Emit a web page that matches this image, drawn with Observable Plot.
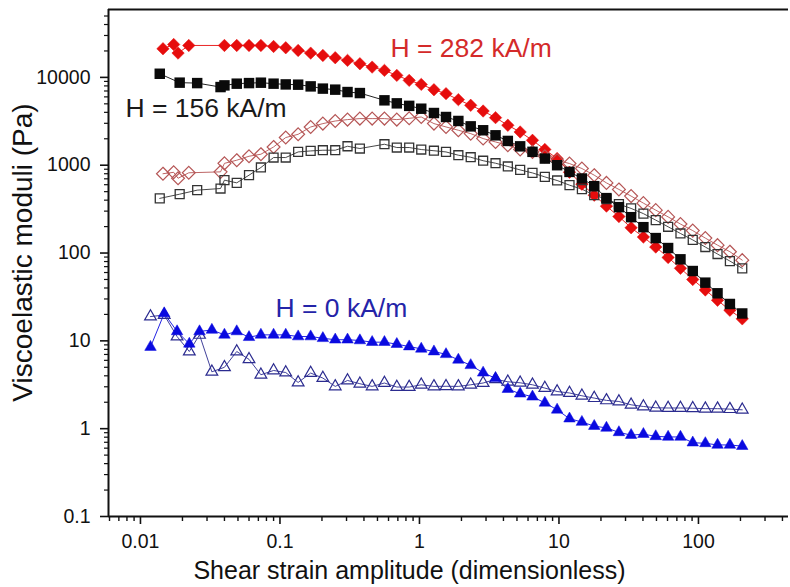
<!DOCTYPE html>
<html>
<head>
<meta charset="utf-8">
<script src="https://cdn.jsdelivr.net/npm/d3@7"></script>
<script src="https://cdn.jsdelivr.net/npm/@observablehq/plot@0.6"></script>
<style>html,body{margin:0;padding:0;background:#fff;}</style>
</head>
<body>
<div id="chart"></div>
<script>
// ---- strain amplitude grid shared by the regular part of the sweeps ----
const strainGrid = [0.040,0.049,0.060,0.073,0.090,0.110,0.135,0.166,0.203,0.249,0.305,0.374,0.458,0.561,0.688,0.844,1.03,1.27,1.55,1.90,2.33,2.86,3.51,4.30,5.27,6.46,7.92,9.70,11.9,14.6,17.9,21.9,26.9,32.9,40.3,49.4,60.6,74.3,91.0,112,137,168,206];

// ---- H = 282 kA/m ----
const strainStart282 = [0.0145, 0.0173, 0.0186, 0.0222];
const storage282Start = [21200, 23700, 18900, 23100];
const storage282 = [23100,23100,23100,23100,22500,21750,20270,18890,17780,16750,15610,14310,13090,12010,10540,9250,8320,7240,6530,5580,4810,4140,3480,2850,2390,1920,1510,1190,832,608,456,342,260,194,152,117,89,67,50,38,29,22.3,17.8];
const strainStart282loss = [0.0145, 0.0173, 0.0186, 0.0222, 0.0375];
const loss282Start = [800, 830, 710, 820, 840];
const loss282 = [1050,1140,1265,1334,1614,2066,2250,2724,2977,3187,3306,3394,3394,3394,3306,3420,3540,2977,2727,2500,2290,2010,1840,1690,1510,1420,1265,1140,1045,917,770,629,530,445,370,308,258,214,180,148,123,103.5,83];

// ---- H = 156 kA/m ----
const strainStart156 = [0.01375, 0.0191, 0.0255, 0.0375];
const storage156Start = [11000, 8710, 8610, 7760];
const storage156 = [8110,8480,8610,8700,8480,8320,8260,7900,7450,7250,6810,6630,null,5480,5064,4740,4400,3930,3540,3190,2770,2500,2190,1890,1640,1420,1190,1000,839,706,577,422,333,256,197,148,114,84.8,62.4,46,34.8,26.3,20.5];
const loss156Start = [419, 468, 520, 543];
const loss156 = [676,630,770,942,1223,1223,1416,1454,1481,1481,1644,1549,null,1733,1590,1590,1508,1462,1416,1300,1233,1125,1054,967,884,817,736,670,593,534,456,411,360,322,281,237,199,167,141,117,97.4,81,67];

// ---- H = 0 kA/m ----
const strainStart0 = [0.0118, 0.0148, 0.0183, 0.0224, 0.0265, 0.0325];
const storage0Start = [8.5, 20.5, 12.8, 9.25, 12.8, 13.3];
const storage0 = [11.7,12.8,11.0,11.7,11.7,11.7,11.2,11.2,10.7,10.3,10.3,10.1,9.66,9.66,9.17,8.61,8.11,7.55,7.03,6.08,5.27,4.33,3.75,2.82,2.50,2.31,1.97,1.64,1.30,1.19,1.07,1.02,0.908,0.844,0.866,0.818,0.805,0.805,0.693,0.681,0.653,0.653,0.632];
const loss0Start = [18.9, 19.7, 11.2, 7.56, 11.7, 4.44];
const loss0 = [5.0,7.56,6.16,4.11,4.60,4.36,3.36,4.30,3.77,3.03,3.54,3.25,3.03,3.31,2.98,2.98,3.16,3.03,3.04,3.03,3.16,3.31,3.65,3.42,3.33,3.16,2.90,2.65,2.55,2.37,2.23,2.10,2.04,1.87,1.79,1.73,1.72,1.72,1.71,1.69,1.69,1.67,1.64];

// ---- axes ----
const xMajorTicks = [0.01, 0.1, 1, 10, 100];
const xTickLabels = ["0.01", "0.1", "1", "10", "100"];
const xMinorTicks = [0.006,0.007,0.008,0.009,0.02,0.03,0.04,0.05,0.06,0.07,0.08,0.09,0.2,0.3,0.4,0.5,0.6,0.7,0.8,0.9,2,3,4,5,6,7,8,9,20,30,40,50,60,70,80,90,200,300,400];
const yMajorTicks = [0.1, 1, 10, 100, 1000, 10000];
const yTickLabels = ["0.1", "1", "10", "100", "1000", "10000"];
const yMinorTicks = [0.2,0.3,0.4,0.5,0.6,0.7,0.8,0.9,2,3,4,5,6,7,8,9,20,30,40,50,60,70,80,90,200,300,400,500,600,700,800,900,2000,3000,4000,5000,6000,7000,8000,9000,20000,30000,40000,50000];
const xDomain = [0.0059, 442];
const yDomain = [0.1, 59300];
const xTitle = "Shear strain amplitude (dimensionless)";
const yTitle = "Viscoelastic moduli (Pa)";

// ---- annotations ----
const annLabels = ["H = 282 kA/m", "H = 156 kA/m", "H = 0 kA/m"];
const annX = [0.62, 0.0078, 0.0929];
const annY = [16900, 3540, 18.9];
const annColors = ["#d42a2a", "#1a1a1a", "#2424a8"];

function build(xs, ys) {
  return xs.map((x, i) => ({strain: x, modulus: ys[i]})).filter(d => d.modulus != null);
}
const s282 = build(strainStart282.concat(strainGrid), storage282Start.concat(storage282));
const l282 = build(strainStart282loss.concat(strainGrid), loss282Start.concat(loss282));
const s156 = build(strainStart156.concat(strainGrid), storage156Start.concat(storage156));
const l156 = build(strainStart156.concat(strainGrid), loss156Start.concat(loss156));
const s0 = build(strainStart0.concat(strainGrid), storage0Start.concat(storage0));
const l0 = build(strainStart0.concat(strainGrid), loss0Start.concat(loss0));
const annotations = annLabels.map((t, i) => ({t, x: annX[i], y: annY[i], c: annColors[i]}));

const C = {
  s282: "#e60d0d", l282: "#b55555",
  s156: "#0a0a0a", l156: "#333333",
  s0: "#0a0ae0", l0: "#2b2b8f"
};
const font = "'Liberation Sans', Arial, Helvetica, sans-serif";
const xy = {x: "strain", y: "modulus"};

const chart = Plot.plot({
  width: 790,
  height: 587,
  marginLeft: 108,
  marginRight: 2,
  marginTop: 9,
  marginBottom: 71,
  style: {fontFamily: font, background: "#fff", color: "#111"},
  x: {type: "log", domain: xDomain},
  y: {type: "log", domain: yDomain},
  marks: [
    // frame lines
    Plot.ruleY([yDomain[0]], {stroke: "#111", strokeWidth: 2}),
    Plot.ruleY([yDomain[1]], {stroke: "#111", strokeWidth: 2}),
    Plot.ruleX([xDomain[0]], {stroke: "#111", strokeWidth: 2}),
    // axes
    Plot.axisX(xMajorTicks, {tickSize: 8, tickPadding: 10, strokeWidth: 1.6, fontSize: 19.5, label: null,
      tickFormat: d => xTickLabels[xMajorTicks.indexOf(d)]}),
    Plot.axisX(xMinorTicks, {tickSize: 5, strokeWidth: 1.4, label: null, tickFormat: () => ""}),
    Plot.axisY(yMajorTicks, {tickSize: 8, tickPadding: 10, strokeWidth: 1.6, fontSize: 19.5, label: null,
      tickFormat: d => yTickLabels[yMajorTicks.indexOf(d)]}),
    Plot.axisY(yMinorTicks, {tickSize: 4, strokeWidth: 1.2, label: null, tickFormat: () => ""}),
    // connecting lines
    Plot.line(l282, {...xy, stroke: C.l282, strokeWidth: 0.9}),
    Plot.line(l156, {...xy, stroke: C.l156, strokeWidth: 0.9}),
    Plot.line(s282, {...xy, stroke: C.s282, strokeWidth: 0.9}),
    Plot.line(s156, {...xy, stroke: C.s156, strokeWidth: 0.9}),
    Plot.line(l0, {...xy, stroke: C.l0, strokeWidth: 0.9}),
    Plot.line(s0, {...xy, stroke: C.s0, strokeWidth: 0.9}),
    // symbols
    Plot.dot(s282, {...xy, symbol: "diamond2", r: 5.6, fill: C.s282, stroke: C.s282, strokeWidth: 0.5}),
    Plot.dot(l282, {...xy, symbol: "diamond2", r: 5.8, fill: "none", stroke: C.l282, strokeWidth: 1.2}),
    Plot.dot(l156, {...xy, symbol: "square2", r: 5.7, fill: "none", stroke: C.l156, strokeWidth: 1.3}),
    Plot.dot(s156, {...xy, symbol: "square", r: 5.9, fill: C.s156}),
    Plot.dot(l0, {...xy, symbol: "triangle2", r: 5.6, fill: "none", stroke: C.l0, strokeWidth: 1.2}),
    Plot.dot(s0, {...xy, symbol: "triangle2", r: 5.5, fill: C.s0, stroke: C.s0, strokeWidth: 0.5}),
    // annotations
    Plot.text(annotations, {x: "x", y: "y", text: "t", fill: "c", textAnchor: "start", lineAnchor: "bottom",
      fontSize: 26.5, fontFamily: font}),
    // axis titles
    Plot.text([xTitle], {frameAnchor: "bottom", dx: -39, dy: 62, lineAnchor: "bottom", textAnchor: "middle",
      fontSize: 25, fill: "#111", fontFamily: font}),
    Plot.text([yTitle], {frameAnchor: "left", dx: -85.5, dy: -10.5, rotate: -90, textAnchor: "middle",
      lineAnchor: "middle", fontSize: 28, fill: "#111", fontFamily: font})
  ]
});
document.getElementById("chart").appendChild(chart);
</script>
</body>
</html>
